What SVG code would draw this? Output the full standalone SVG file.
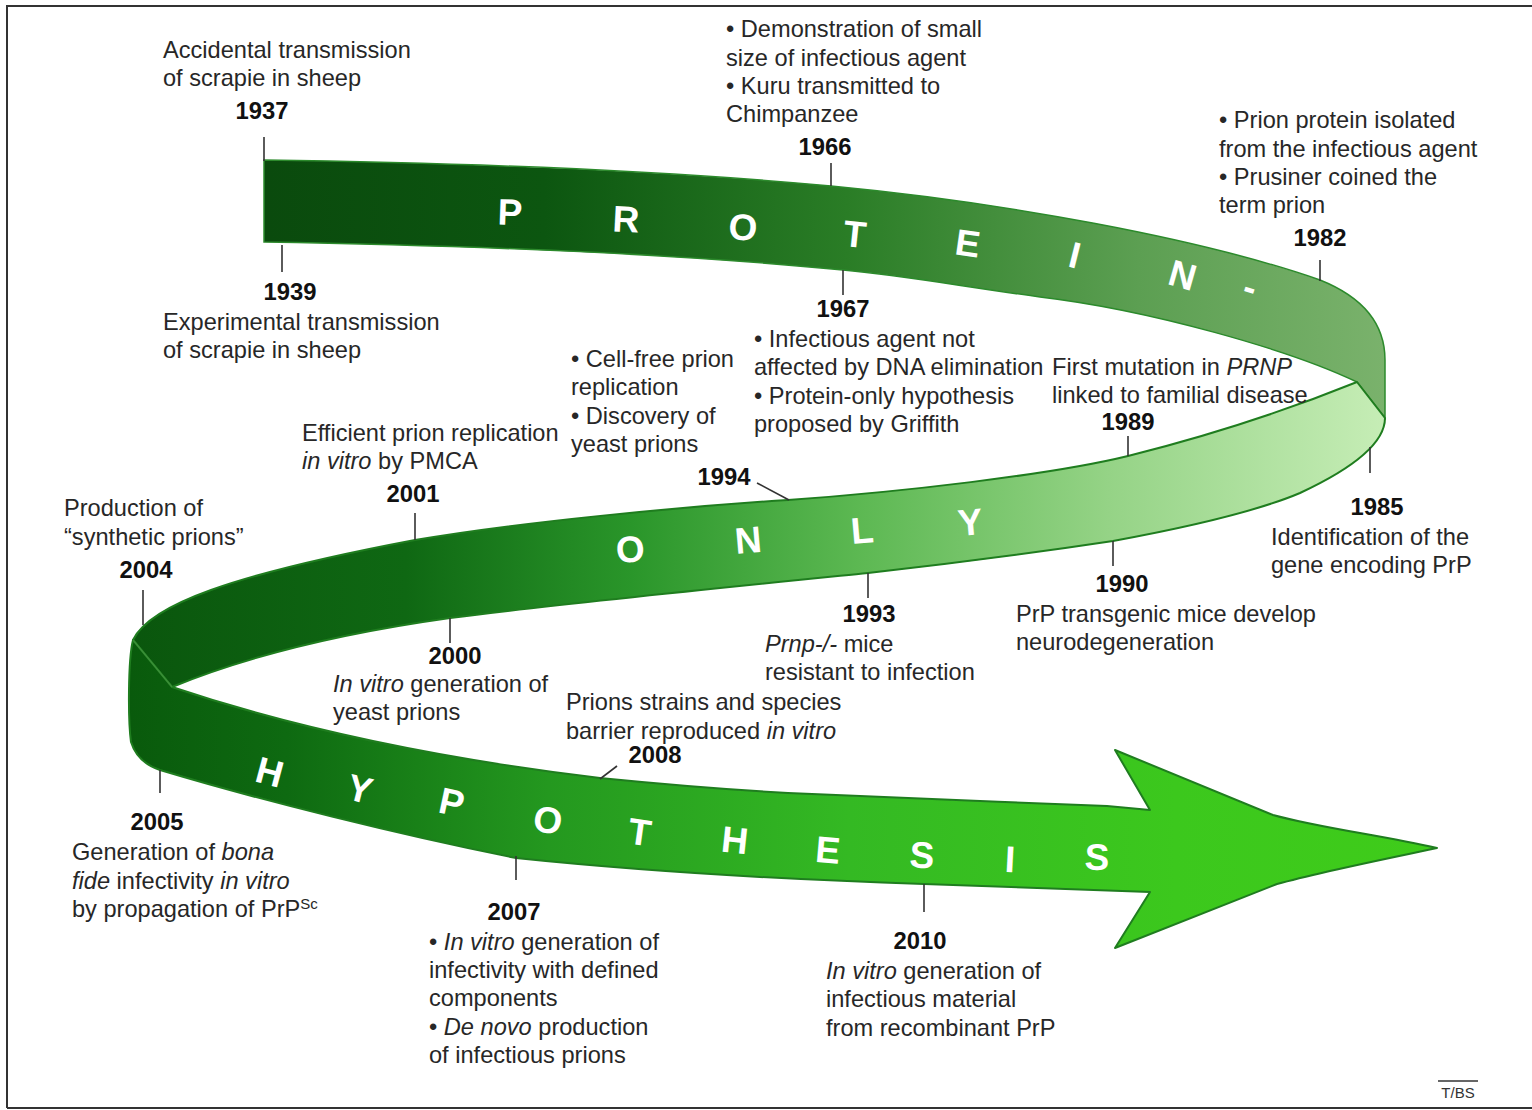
<svg xmlns="http://www.w3.org/2000/svg" width="1532" height="1110" viewBox="0 0 1532 1110">
<defs>
<linearGradient id="gTop" gradientUnits="userSpaceOnUse" x1="264" y1="0" x2="1385" y2="0">
<stop offset="0" stop-color="#0a4a0d"/>
<stop offset="0.25" stop-color="#0c5610"/>
<stop offset="0.52" stop-color="#2a7d26"/>
<stop offset="0.78" stop-color="#5c9f52"/>
<stop offset="1" stop-color="#7ab26c"/>
</linearGradient>
<linearGradient id="gMid" gradientUnits="userSpaceOnUse" x1="130" y1="0" x2="1385" y2="0">
<stop offset="0" stop-color="#0a560d"/>
<stop offset="0.22" stop-color="#0f6813"/>
<stop offset="0.4" stop-color="#2a962a"/>
<stop offset="0.58" stop-color="#5cb852"/>
<stop offset="0.78" stop-color="#95d386"/>
<stop offset="1" stop-color="#c6edb6"/>
</linearGradient>
<linearGradient id="gBot" gradientUnits="userSpaceOnUse" x1="130" y1="0" x2="1437" y2="0">
<stop offset="0" stop-color="#095a0c"/>
<stop offset="0.12" stop-color="#0e6a11"/>
<stop offset="0.32" stop-color="#24981f"/>
<stop offset="0.55" stop-color="#34b923"/>
<stop offset="0.8" stop-color="#3cc81d"/>
<stop offset="1" stop-color="#3fcc1a"/>
</linearGradient>
<style>
.t{font-family:"Liberation Sans",Arial,sans-serif;font-size:23.6px;fill:#272727}
.y{font-family:"Liberation Sans",Arial,sans-serif;font-size:23.8px;font-weight:bold;fill:#111;text-anchor:middle}
.L{font-family:"Liberation Sans",Arial,sans-serif;font-size:37px;font-weight:bold;fill:#ffffff;text-anchor:middle}
.i{font-style:italic}
.tick{stroke:#333;stroke-width:1.6;fill:none}
.edge{stroke:#1f7d1f;stroke-width:2;stroke-linejoin:round}
</style>
</defs>
<rect x="0" y="0" width="1532" height="1110" fill="#ffffff"/>
<path d="M7,1108 L7,6 L1532,6 M7,1108 L1532,1108" fill="none" stroke="#333" stroke-width="2"/>

<g id="ribbon">
<path id="band-top" d="M264,160 C480,163 680,172 831,186 C1000,202 1200,238 1320,280 C1365,298 1385,325 1385,360 L1385,418 L1357,382 C1290,350 1150,310 1040,297 C960,286 900,275 843,270 C700,256 500,246 264,242 Z" fill="url(#gTop)" stroke="#2c8a2c" stroke-width="1.5"/>
<path id="band-mid" d="M1357,382 L1385,418 C1385,440 1360,465 1300,493 C1260,510 1200,525 1113,541 C1000,558 940,565 868,573 C700,590 550,605 450,618 C350,632 250,655 172,687 L133,640 C150,605 230,575 415,540 C520,522 680,507 788,500 C900,492 1050,475 1128,456 C1220,433 1300,405 1357,382 Z" fill="url(#gMid)" class="edge"/>
<path id="band-bot" d="M172,687 L133,640 C128,660 128,720 131,742 C136,758 148,766 160,770 C260,800 400,835 516,858 C650,872 800,880 924,884 L1150,892 L1115,948 L1277,884 C1320,872 1380,860 1437,848 C1380,835 1320,828 1273,815 L1115,750 L1150,810 L1107,806 C1000,802 870,797 788,793 C700,788 650,783 600,778 C450,760 300,730 172,687 Z" fill="url(#gBot)" class="edge"/>
<path d="M133,640 L172,687" stroke="#4f9a4a" stroke-width="1.5" fill="none" opacity="0.6"/>
</g>

<g id="ribbon-letters">
<text class="L" x="510" y="225" transform="rotate(2 510 211)">P</text>
<text class="L" x="626" y="232" transform="rotate(3 626 218)">R</text>
<text class="L" x="743" y="240" transform="rotate(4 743 226)">O</text>
<text class="L" x="855" y="247" transform="rotate(6 855 233)">T</text>
<text class="L" x="968" y="256" transform="rotate(8 968 242)">E</text>
<text class="L" x="1075" y="268" transform="rotate(14 1075 254)">I</text>
<text class="L" x="1183" y="288" transform="rotate(16 1183 274)">N</text>
<text class="L" x="1250" y="300" transform="rotate(18 1250 288)">-</text>
<text class="L" x="630" y="562" transform="rotate(-5 630 548)">O</text>
<text class="L" x="748" y="553" transform="rotate(-5 748 539)">N</text>
<text class="L" x="862" y="543" transform="rotate(-5 862 529)">L</text>
<text class="L" x="970" y="535" transform="rotate(-5 970 521)">Y</text>
<text class="L" x="270" y="785" transform="rotate(15 270 771)">H</text>
<text class="L" x="360" y="802" transform="rotate(14 360 788)">Y</text>
<text class="L" x="452" y="815" transform="rotate(12 452 801)">P</text>
<text class="L" x="548" y="833" transform="rotate(10 548 819)">O</text>
<text class="L" x="640" y="845" transform="rotate(8 640 831)">T</text>
<text class="L" x="735" y="853" transform="rotate(6 735 839)">H</text>
<text class="L" x="828" y="863" transform="rotate(5 828 849)">E</text>
<text class="L" x="922" y="868" transform="rotate(3 922 854)">S</text>
<text class="L" x="1010" y="872" transform="rotate(3 1010 858)">I</text>
<text class="L" x="1097" y="870" transform="rotate(2 1097 856)">S</text>
</g>

<g id="connectors">
<line class="tick" x1="264" y1="137" x2="264" y2="161"/>
<line class="tick" x1="282" y1="245" x2="282" y2="272"/>
<line class="tick" x1="831" y1="163" x2="831" y2="186"/>
<line class="tick" x1="843" y1="270" x2="843" y2="295"/>
<line class="tick" x1="1320" y1="260" x2="1320" y2="281"/>
<line class="tick" x1="1370" y1="447" x2="1370" y2="473"/>
<line class="tick" x1="1128" y1="436" x2="1128" y2="456"/>
<line class="tick" x1="1113" y1="541" x2="1113" y2="566"/>
<line class="tick" x1="868" y1="573" x2="868" y2="598"/>
<line class="tick" x1="757" y1="483" x2="789" y2="500"/>
<line class="tick" x1="415" y1="513" x2="415" y2="540"/>
<line class="tick" x1="450" y1="618" x2="450" y2="643"/>
<line class="tick" x1="143" y1="590" x2="143" y2="625"/>
<line class="tick" x1="160" y1="770" x2="160" y2="793"/>
<line class="tick" x1="617" y1="766" x2="600" y2="779"/>
<line class="tick" x1="516" y1="856" x2="516" y2="880"/>
<line class="tick" x1="924" y1="884" x2="924" y2="912"/>
</g>

<g id="e1937">
<text class="t" x="163" y="58">Accidental transmission</text>
<text class="t" x="163" y="86">of scrapie in sheep</text>
<text class="y" x="262" y="119">1937</text>
</g>
<g id="e1939">
<text class="y" x="290" y="300">1939</text>
<text class="t" x="163" y="330">Experimental transmission</text>
<text class="t" x="163" y="358">of scrapie in sheep</text>
</g>
<g id="e1966">
<text class="t" x="726" y="37">• Demonstration of small</text>
<text class="t" x="726" y="66">size of infectious agent</text>
<text class="t" x="726" y="94">• Kuru transmitted to</text>
<text class="t" x="726" y="122">Chimpanzee</text>
<text class="y" x="825" y="155">1966</text>
</g>
<g id="e1967">
<text class="y" x="843" y="317">1967</text>
<text class="t" x="754" y="347">• Infectious agent not</text>
<text class="t" x="754" y="375">affected by DNA elimination</text>
<text class="t" x="754" y="404">• Protein-only hypothesis</text>
<text class="t" x="754" y="432">proposed by Griffith</text>
</g>
<g id="e1982">
<text class="t" x="1219" y="128">• Prion protein isolated</text>
<text class="t" x="1219" y="157">from the infectious agent</text>
<text class="t" x="1219" y="185">• Prusiner coined the</text>
<text class="t" x="1219" y="213">term prion</text>
<text class="y" x="1320" y="246">1982</text>
</g>
<g id="e1989">
<text class="t" x="1052" y="375">First mutation in <tspan class="i">PRNP</tspan></text>
<text class="t" x="1052" y="403">linked to familial disease</text>
<text class="y" x="1128" y="430">1989</text>
</g>
<g id="e1985">
<text class="y" x="1377" y="515">1985</text>
<text class="t" x="1271" y="545">Identification of the</text>
<text class="t" x="1271" y="573">gene encoding PrP</text>
</g>
<g id="e1990">
<text class="y" x="1122" y="592">1990</text>
<text class="t" x="1016" y="622">PrP transgenic mice develop</text>
<text class="t" x="1016" y="650">neurodegeneration</text>
</g>
<g id="e1993">
<text class="y" x="869" y="622">1993</text>
<text class="t" x="765" y="652"><tspan class="i">Prnp-/-</tspan> mice</text>
<text class="t" x="765" y="680">resistant to infection</text>
</g>
<g id="e1994">
<text class="t" x="571" y="367">• Cell-free prion</text>
<text class="t" x="571" y="395">replication</text>
<text class="t" x="571" y="424">• Discovery of</text>
<text class="t" x="571" y="452">yeast prions</text>
<text class="y" x="724" y="485">1994</text>
</g>
<g id="e2001">
<text class="t" x="302" y="441">Efficient prion replication</text>
<text class="t" x="302" y="469"><tspan class="i">in vitro</tspan> by PMCA</text>
<text class="y" x="413" y="502">2001</text>
</g>
<g id="e2004">
<text class="t" x="64" y="516">Production of</text>
<text class="t" x="64" y="545">“synthetic prions”</text>
<text class="y" x="146" y="578">2004</text>
</g>
<g id="e2000">
<text class="y" x="455" y="664">2000</text>
<text class="t" x="333" y="692"><tspan class="i">In vitro</tspan> generation of</text>
<text class="t" x="333" y="720">yeast prions</text>
</g>
<g id="e2008">
<text class="t" x="566" y="710">Prions strains and species</text>
<text class="t" x="566" y="739">barrier reproduced <tspan class="i">in vitro</tspan></text>
<text class="y" x="655" y="763">2008</text>
</g>
<g id="e2005">
<text class="y" x="157" y="830">2005</text>
<text class="t" x="72" y="860">Generation of <tspan class="i">bona</tspan></text>
<text class="t" x="72" y="889"><tspan class="i">fide</tspan> infectivity <tspan class="i">in vitro</tspan></text>
<text class="t" x="72" y="917">by propagation of PrP<tspan font-size="15" dy="-8">Sc</tspan></text>
</g>
<g id="e2007">
<text class="y" x="514" y="920">2007</text>
<text class="t" x="429" y="950">• <tspan class="i">In vitro</tspan> generation of</text>
<text class="t" x="429" y="978">infectivity with defined</text>
<text class="t" x="429" y="1006">components</text>
<text class="t" x="429" y="1035">• <tspan class="i">De novo</tspan> production</text>
<text class="t" x="429" y="1063">of infectious prions</text>
</g>
<g id="e2010">
<text class="y" x="920" y="949">2010</text>
<text class="t" x="826" y="979"><tspan class="i">In vitro</tspan> generation of</text>
<text class="t" x="826" y="1007">infectious material</text>
<text class="t" x="826" y="1036">from recombinant PrP</text>
</g>
<g id="logo">
<line x1="1438" y1="1081" x2="1478" y2="1081" stroke="#333" stroke-width="1.5"/>
<text x="1458" y="1098" font-family="Liberation Sans, Arial, sans-serif" font-size="15" fill="#333" text-anchor="middle">T/BS</text>
</g>
</svg>
